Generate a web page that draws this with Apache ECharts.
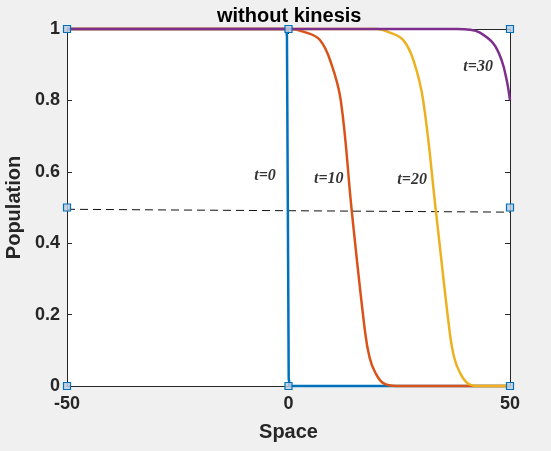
<!DOCTYPE html>
<html>
<head>
<meta charset="utf-8">
<script src="https://cdn.jsdelivr.net/npm/echarts@6/dist/echarts.min.js"></script>
<style>
  html, body { margin: 0; padding: 0; background: #f0f0f0; }
  #chart { width: 551px; height: 451px; }
</style>
</head>
<body>
<div id="chart"></div>
<script>
// Profils (espace, population)
const spaceBlue = [-50, -0.5, -0.35, 0.05, 0.3, 50];
const popBlue = [1, 1, 0.98, 0.02, 0, 0];

const spaceOrange = [-50, 0, 4, 7.1, 9.6, 11.8, 14.3, 17.3, 18.3, 19.5, 21.4, 24.4, 50];
const popOrange = [1, 1, 0.99, 0.969, 0.905, 0.80, 0.488, 0.15, 0.08, 0.04, 0.008, 0, 0];

const spaceYellow = [-50, 20, 22.9, 25.9, 28.2, 30.4, 33.3, 36.4, 37.4, 38.6, 40.4, 42.5, 50];
const popYellow = [1, 1, 0.99, 0.969, 0.913, 0.80, 0.487, 0.15, 0.08, 0.04, 0.008, 0, 0];

const spacePurple = [-50, 38, 41, 43.2, 46.2, 48.1, 49.25, 50];
const popPurple = [1, 1, 0.998, 0.99, 0.96, 0.913, 0.857, 0.80];

// Ligne pointillée
const dashX = [-50, 50];
const dashY = [0.495, 0.487];

// Repères carrés
const markX = [-50, 0, 50, -50, 50, -50, 0, 50];
const markY = [1, 1, 1, 0.5, 0.5, 0, 0, 0];

// Annotations
const labelText = ['t=0', 't=10', 't=20', 't=30'];
const labelX = [-5.3, 9.1, 27.9, 42.8];
const labelY = [0.588, 0.58, 0.577, 0.894];

const zip = (xs, ys) => xs.map((x, i) => [x, ys[i]]);

function curve(name, xs, ys, color, smooth) {
    return {
        name: name,
        type: 'line',
        data: zip(xs, ys),
        smooth: smooth ? 0.4 : false,
        showSymbol: false,
        clip: false,
        lineStyle: { color: color, width: 2.5 },
        itemStyle: { color: color },
        silent: true
    };
}

const axisColor = '#262626';

const option = {
    backgroundColor: '#f0f0f0',
    animation: false,
    title: {
        text: 'without kinesis',
        left: 212,
        top: 1,
        textStyle: { color: '#000', fontSize: 20, fontWeight: 'bold', fontFamily: 'Liberation Sans' }
    },
    grid: {
        left: 67, right: 41, top: 29, bottom: 65,
        outerBoundsMode: 'none',
        show: true, backgroundColor: '#ffffff', borderWidth: 0
    },
    xAxis: [{
        type: 'value', min: -50, max: 50, interval: 50,
        name: 'Space', nameLocation: 'middle', nameGap: 36,
        nameTextStyle: { color: axisColor, fontSize: 20, fontWeight: 'bold', fontFamily: 'Liberation Sans' },
        axisLine: { show: true, onZero: false, lineStyle: { color: axisColor, width: 1 } },
        axisTick: { show: true, inside: true, length: 5, lineStyle: { color: axisColor } },
        axisLabel: { color: axisColor, fontSize: 18, fontWeight: 'bold', fontFamily: 'Liberation Sans', margin: 9 },
        splitLine: { show: false }
    }, {
        type: 'value', min: -50, max: 50, interval: 50, position: 'top',
        axisLine: { show: true, onZero: false, lineStyle: { color: axisColor, width: 1 } },
        axisTick: { show: true, inside: true, length: 5, lineStyle: { color: axisColor } },
        axisLabel: { show: false },
        splitLine: { show: false }
    }],
    yAxis: [{
        type: 'value', min: 0, max: 1, interval: 0.2,
        name: 'Population', nameLocation: 'middle', nameGap: 38,
        nameTextStyle: { color: axisColor, fontSize: 20, fontWeight: 'bold', fontFamily: 'Liberation Sans' },
        axisLine: { show: true, onZero: false, lineStyle: { color: axisColor, width: 1 } },
        axisTick: { show: true, inside: true, length: 5, lineStyle: { color: axisColor } },
        axisLabel: { color: axisColor, fontSize: 18, fontWeight: 'bold', fontFamily: 'Liberation Sans', margin: 7 },
        splitLine: { show: false }
    }, {
        type: 'value', min: 0, max: 1, interval: 0.2, position: 'right',
        axisLine: { show: true, onZero: false, lineStyle: { color: axisColor, width: 1 } },
        axisTick: { show: true, inside: true, length: 5, lineStyle: { color: axisColor } },
        axisLabel: { show: false },
        splitLine: { show: false }
    }],
    series: [
        {
            name: 'seuil',
            type: 'line',
            data: zip(dashX, dashY),
            showSymbol: false,
            lineStyle: { color: '#111', width: 1, type: [8, 5] },
            silent: true
        },
        curve('t=0', spaceBlue, popBlue, '#0072BD', false),
        curve('t=10', spaceOrange, popOrange, '#D95319', true),
        curve('t=20', spaceYellow, popYellow, '#EDB120', true),
        curve('t=30', spacePurple, popPurple, '#7E2F8E', true),
        {
            name: 'reperes',
            type: 'scatter',
            data: zip(markX, markY),
            symbol: 'rect',
            symbolSize: 7,
            clip: false,
            z: 5,
            itemStyle: { color: 'rgba(190,205,225,0.85)', borderColor: '#0072BD', borderWidth: 1.2, opacity: 1 },
            silent: true
        },
        {
            name: 'labels',
            type: 'scatter',
            data: labelText.map((t, i) => ({ value: [labelX[i], labelY[i]], name: t })),
            symbolSize: 0,
            z: 6,
            label: {
                show: true,
                position: 'inside',
                formatter: p => p.name,
                color: '#000',
                fontSize: 16,
                fontStyle: 'italic',
                fontWeight: 'bold',
                fontFamily: 'Liberation Serif',
                align: 'center',
                verticalAlign: 'middle'
            },
            silent: true
        }
    ]
};

const chart = echarts.init(document.getElementById('chart'));
chart.setOption(option);
</script>
</body>
</html>
